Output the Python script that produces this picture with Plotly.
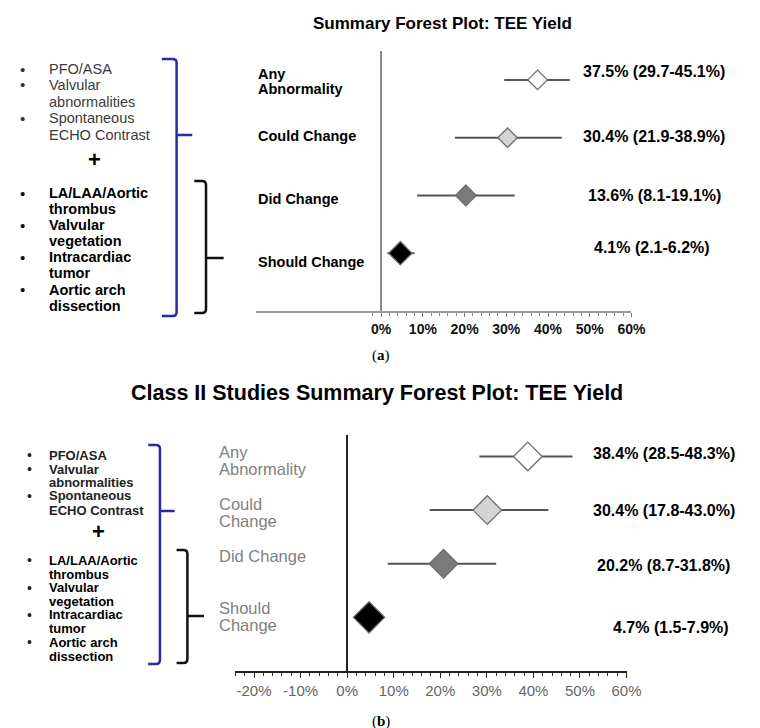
import plotly.graph_objects as go

W, H = 760, 728

# ---------------- data ----------------
categories_a = ["Any<br>Abnormality", "Could Change", "Did Change", "Should Change"]
categories_b = ["Any<br>Abnormality", "Could<br>Change", "Did Change", "Should<br>Change"]
ypos = [4, 3, 2, 1]

est_a = [37.5, 30.3, 20.3, 4.6]
lo_a = [29.5, 17.7, 8.6, 1.5]
hi_a = [45.2, 43.3, 32.0, 8.0]
labels_a = ["37.5% (29.7-45.1%)", "30.4% (21.9-38.9%)", "13.6% (8.1-19.1%)", "4.1% (2.1-6.2%)"]

est_b = [38.8, 30.1, 20.7, 4.7]
lo_b = [28.4, 17.7, 8.7, 1.5]
hi_b = [48.4, 43.2, 32.0, 7.9]
labels_b = ["38.4% (28.5-48.3%)", "30.4% (17.8-43.0%)", "20.2% (8.7-31.8%)", "4.7% (1.5-7.9%)"]

fills = ["#ffffff", "#d4d4d4", "#7a7a7a", "#000000"]

major_ticks_a = [0, 10, 20, 30, 40, 50, 60]
major_ticks_b = [-20, -10, 0, 10, 20, 30, 40, 50, 60]

title_a = "Summary Forest Plot: TEE Yield"
title_b = "Class II Studies Summary Forest Plot: TEE Yield"

# ---------------- helpers ----------------
def px(x):
    return x / W

def py(y):
    return 1 - y / H

FONT = "Liberation Sans, Arial, sans-serif"
annotations = []
shapes = []

def ann(text, x, y, size, color="#000", xanchor="left", family=FONT):
    annotations.append(dict(
        text=text, x=px(x), y=py(y), xref="paper", yref="paper",
        xanchor=xanchor, yanchor="middle", showarrow=False,
        font=dict(family=family, size=size, color=color)))

def bracket(x_end, x_v, y_top, y_bot, y_mid, x_tip, color):
    r = 4
    pts = (f"M {px(x_end)},{py(y_top)} L {px(x_v - r)},{py(y_top)} "
           f"Q {px(x_v)},{py(y_top)} {px(x_v)},{py(y_top + r)} "
           f"L {px(x_v)},{py(y_bot - r)} Q {px(x_v)},{py(y_bot)} {px(x_v - r)},{py(y_bot)} "
           f"L {px(x_end)},{py(y_bot)} "
           f"M {px(x_v)},{py(y_mid)} L {px(x_tip)},{py(y_mid)}")
    shapes.append(dict(type="path", path=pts, xref="paper", yref="paper",
                       line=dict(color=color, width=2.5)))

# ---------------- figure ----------------
fig = go.Figure()

def add_panel(est, lo, hi, sizes, xa, ya):
    wx, wy = [], []
    for l, h, y in zip(lo, hi, ypos):
        wx += [l, h, None]
        wy += [y, y, None]
    fig.add_trace(go.Scatter(
        x=wx, y=wy, mode="lines", xaxis=xa, yaxis=ya,
        line=dict(color="#555555", width=2), showlegend=False, hoverinfo="skip"))
    fig.add_trace(go.Scatter(
        x=est, y=ypos, mode="markers", xaxis=xa, yaxis=ya,
        marker=dict(symbol="diamond", size=sizes, color=fills, opacity=1,
                    line=dict(color="#6e6e6e", width=1.3)),
        showlegend=False, hoverinfo="x+y"))

add_panel(est_a, lo_a, hi_a, [15, 15, 16, 18], "x", "y")
add_panel(est_b, lo_b, hi_b, [22, 22, 22, 24], "x2", "y2")

# ---- panel (a) texts ----
ann("<b>" + title_a + "</b>", 443, 15, 17, xanchor="center")

rows_a = [(61, True, "PFO/ASA", 0), (77, True, "Valvular", 0), (94, False, "abnormalities", 0),
          (110, True, "Spontaneous", 0), (127, False, "ECHO Contrast", 0),
          (185, True, "LA/LAA/Aortic", 1), (201, False, "thrombus", 1), (217, True, "Valvular", 1),
          (233, False, "vegetation", 1), (249, True, "Intracardiac", 1), (265, False, "tumor", 1),
          (282, True, "Aortic arch", 1), (298, False, "dissection", 1)]
for y, bullet, txt, grp in rows_a:
    if bullet:
        ann("•", 15, y, 15, color="#333" if grp == 0 else "#000", xanchor="center")
    if grp == 0:
        ann(txt, 40, y, 14.5, color="#3a3a3a")
    else:
        ann("<b>" + txt + "</b>", 40, y, 14.5)
ann("<b>+</b>", 88, 151, 22, xanchor="center")

cat_y_a = [(73.5, 15), (128, 0), (191, 0), (254, 0)]
for cat, (yc, gap) in zip(categories_a, cat_y_a):
    lines = cat.split("<br>")
    n = len(lines)
    for i, ln in enumerate(lines):
        ann("<b>" + ln + "</b>", 253, yc + (i - (n - 1) / 2) * gap, 14.5)

lab_pos_a = [(659, 63), (659, 128), (660, 188), (657, 240)]
for lab, (x, y) in zip(labels_a, lab_pos_a):
    ann("<b>" + lab + "</b>", x, y, 16, xanchor="center")

bracket(157, 172, 51, 308, 127, 188, "#2b2ba0")
bracket(190, 202, 173, 305, 250, 220, "#111111")

ann("(<b>a</b>)", 381, 347, 15, family="Liberation Serif, Times New Roman, serif", xanchor="center")

# ---- panel (b) texts ----
ann("<b>" + title_b + "</b>", 376, 385, 21.5, xanchor="center")

rows_b = [(447, True, "PFO/ASA", 0), (461, True, "Valvular", 0), (474.5, False, "abnormalities", 0),
          (488, True, "Spontaneous", 0), (502, False, "ECHO Contrast", 0),
          (552, True, "LA/LAA/Aortic", 1), (566, False, "thrombus", 1), (579.5, True, "Valvular", 1),
          (593, False, "vegetation", 1), (606.5, True, "Intracardiac", 1), (620, False, "tumor", 1),
          (634, True, "Aortic arch", 1), (648, False, "dissection", 1)]
for y, bullet, txt, grp in rows_b:
    if bullet:
        ann("•", 22, y, 14, color="#222", xanchor="center")
    ann("<b>" + txt + "</b>", 40, y, 13, color="#222" if grp == 0 else "#000")
ann("<b>+</b>", 92, 523, 22, xanchor="center")

cat_y_b = [(452.5, 17), (504.5, 17), (548, 0), (608.5, 17)]
for cat, (yc, gap) in zip(categories_b, cat_y_b):
    lines = cat.split("<br>")
    n = len(lines)
    for i, ln in enumerate(lines):
        ann(ln, 213, yc + (i - (n - 1) / 2) * gap, 16.5, color="#7f7f7f")

lab_pos_b = [(669, 445), (669, 502), (669, 557), (676, 619)]
for lab, (x, y) in zip(labels_b, lab_pos_b):
    ann("<b>" + lab + "</b>", x, y, 16, xanchor="center")

bracket(143, 155, 437, 656, 503, 170, "#2b2ba0")
bracket(172, 183, 542, 655, 608, 200, "#111111")

ann("(<b>b</b>)", 381, 713, 15, family="Liberation Serif, Times New Roman, serif", xanchor="center")

# ---------------- axes ----------------
fig.update_layout(
    width=W, height=H,
    margin=dict(l=0, r=0, t=0, b=0),
    paper_bgcolor="white", plot_bgcolor="white",
    showlegend=False,
    annotations=annotations, shapes=shapes,
    xaxis=dict(domain=[px(253), px(636)], range=[-30, 60], anchor="y",
               showgrid=False, zeroline=True, zerolinecolor="#8a8a8a", zerolinewidth=2,
               showline=True, linecolor="#9a9a9a", linewidth=1.5,
               tickmode="array", tickvals=major_ticks_a,
               ticktext=[f"{v}%" for v in major_ticks_a],
               ticks="outside", ticklen=4, tickcolor="#777", tickwidth=1.2,
               tickfont=dict(family=FONT, size=14, color="#111", weight="bold"),
               minor=dict(tickmode="array", tickvals=list(range(-2, 61, 2)),
                          ticks="outside", ticklen=3, tickcolor="#888", showgrid=False),
               fixedrange=True),
    yaxis=dict(domain=[py(303), py(43)], range=[0, 4.5], anchor="x",
               showgrid=False, zeroline=False, showline=False, showticklabels=False,
               ticks="", fixedrange=True),
    xaxis2=dict(domain=[px(232), px(631)], range=[-24, 60], anchor="y2",
                showgrid=False, zeroline=True, zerolinecolor="#222", zerolinewidth=1.8,
                showline=True, linecolor="#222", linewidth=1.5,
                tickmode="array", tickvals=major_ticks_b,
                ticktext=[f"{v}%" for v in major_ticks_b],
                ticks="outside", ticklen=5, tickcolor="#222", tickwidth=1.3,
                tickfont=dict(family=FONT, size=15, color="#666"),
                minor=dict(tickmode="array", tickvals=list(range(-24, 61, 2)),
                           ticks="outside", ticklen=3, tickcolor="#333", showgrid=False),
                fixedrange=True),
    yaxis2=dict(domain=[py(663), py(427)], range=[0, 4.4], anchor="x2",
                showgrid=False, zeroline=False, showline=False, showticklabels=False,
                ticks="", fixedrange=True),
)

fig.write_html("out.html")
